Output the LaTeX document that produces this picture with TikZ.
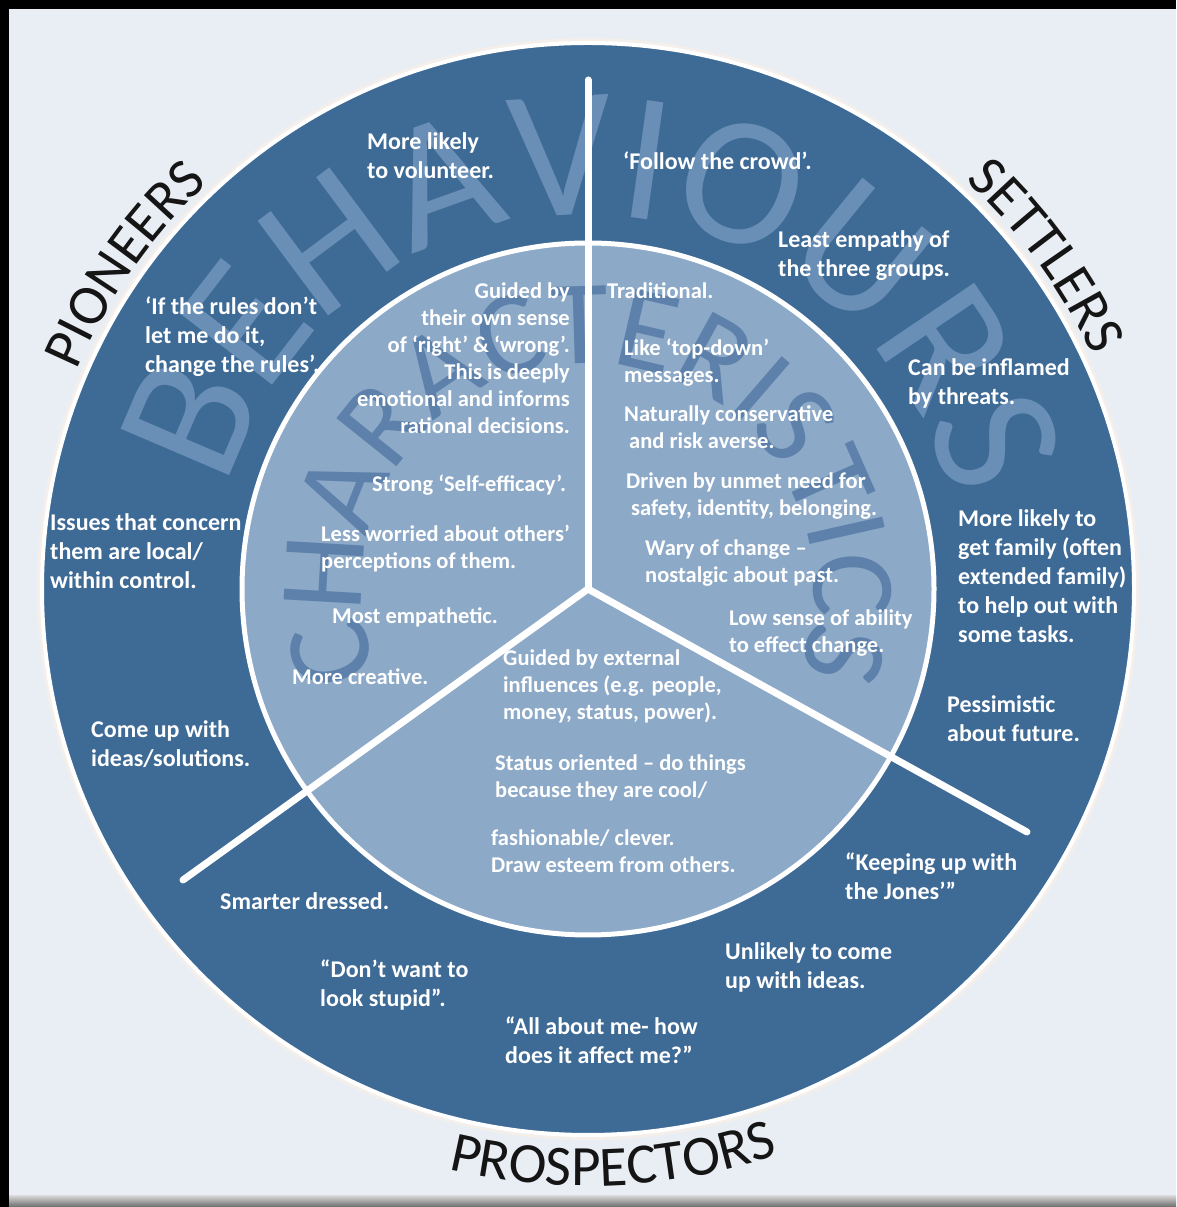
\documentclass[tikz,border=0pt]{standalone}
\usepackage{fontspec}
\setmainfont{Carlito}
\usetikzlibrary{decorations.text}
\definecolor{bg}{HTML}{E8EEF4}
\definecolor{outerblue}{HTML}{3E6A96}
\definecolor{innerblue}{HTML}{8DA9C8}
\definecolor{wmA}{HTML}{6A8FB7}
\definecolor{wmB}{HTML}{5D81AA}
\definecolor{labcol}{HTML}{151515}
\definecolor{halo}{HTML}{F4EFEA}
\begin{document}
\begin{tikzpicture}[x=1pt,y=1pt,
  divider/.style={draw=white, line width=7pt, line cap=round},
  wt/.style={text=white, font=\fontsize{24}{29}\selectfont\bfseries, align=left, inner sep=0pt, anchor=north west},
  it/.style={text=white, font=\fontsize{22.5}{27}\selectfont\bfseries, align=left, inner sep=0pt, anchor=north west},
  arclabel/.style={decorate, decoration={text along path, text align=center, text color=labcol, text={|\fontsize{57}{57}\selectfont|#1}}}
]
\useasboundingbox (0,0) rectangle (1176,1207);
\fill[bg] (0,0) rectangle (1176,1207);
\fill[black] (0,0) rectangle (9,1207);
\fill[black] (0,1198) rectangle (1176,1207);
\shade[top color=gray!35, bottom color=gray!85!black] (9,0) rectangle (1176,11);

\coordinate (c) at (588,618);
\fill[halo] (c) circle[radius=551];
\fill[outerblue, draw=white, line width=4pt] (c) circle[radius=546];

% watermark BEHAVIOURS
\path[decorate, decoration={text along path, text align=center, text color=wmA,
  text={|\fontsize{184}{184}\selectfont|BEHAVIOURS}}]
  ([shift={(c)}]179:374) arc[start angle=179, end angle=-1, radius=374];

\fill[innerblue, draw=white, line width=5pt] (c) circle[radius=346];

% watermark CHARACTERISTICS
\path[decorate, decoration={text along path, text align=center, text color=wmB,
  text={|\fontsize{120}{120}\selectfont|CHARACTERISTICS}}]
  ([shift={(c)}]231:226) arc[start angle=231, end angle=-50, radius=226];

% dividers
\coordinate (e1) at (588,1127);
\coordinate (e2) at (183,327);
\coordinate (e3) at (1027,375);
\draw[divider] (c) -- (e1);
\draw[divider] (c) -- (e2);
\draw[divider] (c) -- (e3);

% group labels
\path[arclabel=PIONEERS] ([shift={(c)}]175:556) arc[start angle=175, end angle=115, radius=556];
\path[arclabel=SETTLERS] ([shift={(c)}]66:556) arc[start angle=66, end angle=6, radius=556];
\path[arclabel=PROSPECTORS] ([shift={(c)}]-125:597) arc[start angle=-125, end angle=-50, radius=597];

% outer ring texts
\node[wt] (t1) at (367,1075) {More likely\\to volunteer.};
\node[wt] (t2) at (623,1055) {‘Follow the crowd’.};
\node[wt] (t3) at (778,977) {Least empathy of\\the three groups.};
\node[wt] (t4) at (145,910) {‘If the rules don’t\\let me do it,\\change the rules’.};
\node[wt] (t5) at (908,849) {Can be inflamed\\by threats.};
\node[wt] (t6) at (50,694) {Issues that concern\\them are local/\\within control.};
\node[wt] (t7) at (958,698) {More likely to\\get family (often\\extended\ family)\\to help out with\\some tasks.};
\node[wt] (t8) at (947,512) {Pessimistic\\about future.};
\node[wt] (t9) at (91,487) {Come up with\\ideas/solutions.};
\node[wt] (t10) at (220,315) {Smarter dressed.};
\node[wt] (t11) at (845,354) {“Keeping up with\\the Jones’”};
\node[wt] (t12) at (320,247) {“Don’t want to\\look stupid”.};
\node[wt] (t13) at (725,265) {Unlikely to come\\up with ideas.};
\node[wt] (t14) at (505,190) {“All about me- how\\does it affect me?”};

% inner texts
\node[it, anchor=north east, align=right] (t15) at (570,924) {Guided by\\their own sense\\of ‘right’ \& ‘wrong’.\\This is deeply\\emotional and informs\\rational\ decisions.};
\node[it] (t16) at (372,732) {Strong ‘Self-efficacy’.};
\node[it] (t17) at (321,682) {Less worried about others’\\perceptions of them.};
\node[it] (t18) at (332,600) {Most empathetic.};
\node[it] (t19) at (292,539) {More creative.};
\node[it] (t20) at (607,925) {Traditional.};
\node[it] (t21) at (624,868) {Like ‘top-down’\\messages.};
\node[it] (t22) at (624,802) {Naturally conservative\\\hspace*{5pt}and risk averse.};
\node[it] (t23) at (626,734) {Driven by unmet need for\\\hspace*{5pt}safety, identity, belonging.};
\node[it] (t24) at (645,667) {Wary of change –\\nostalgic about past.};
\node[it] (t25) at (729,597) {Low sense of ability\\to effect change.};
\node[it] (t26) at (503,557) {Guided by external\\influences (e.g. people,\\money, status, power).};
\node[it] (t27) at (495,452) {Status oriented – do things\\because they are cool/};
\node[it] (t28) at (491,377) {fashionable/ clever.\\Draw esteem from others.};
\end{tikzpicture}
\end{document}
